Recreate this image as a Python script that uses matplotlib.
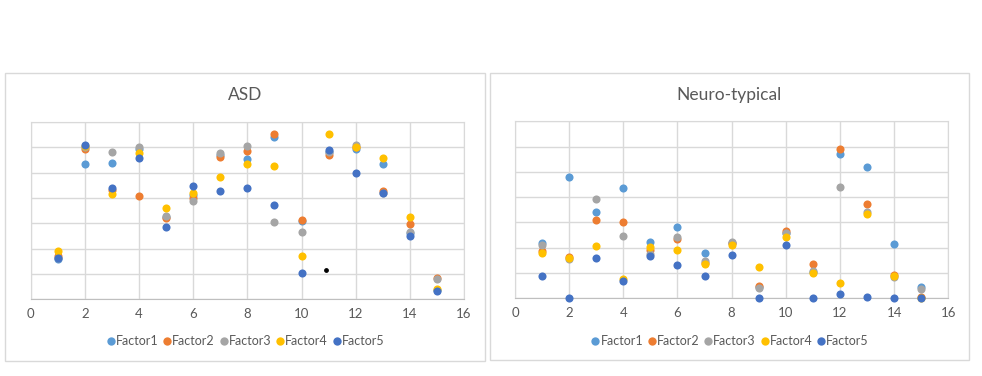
import matplotlib.pyplot as plt
from matplotlib.patches import Rectangle
from matplotlib.lines import Line2D

plt.rcParams['font.family'] = ['Lato', 'DejaVu Sans']

x = list(range(1, 16))
factors = ['Factor1', 'Factor2', 'Factor3', 'Factor4', 'Factor5']
colors = ['#5B9BD5', '#ED7D31', '#A5A5A5', '#FFC000', '#4472C4']

# ASD panel (y in grid units, no tick labels shown in the original)
asd_f1 = [1.58, 5.35, 5.39, 5.95, 3.25, 4.10, 5.70, 5.52, 6.42, 3.10, 5.80, 5.92, 5.33, 2.60, 0.35]
asd_f2 = [1.72, 5.95, 4.30, 4.08, 3.20, 4.00, 5.61, 5.87, 6.53, 3.12, 5.68, 6.00, 4.28, 2.97, 0.85]
asd_f3 = [1.62, 6.00, 5.83, 6.01, 3.28, 3.88, 5.79, 6.06, 3.07, 2.64, 5.80, 6.11, 4.20, 2.64, 0.82]
asd_f4 = [1.89, 6.05, 4.16, 5.76, 3.61, 4.21, 4.83, 5.35, 5.25, 1.70, 6.53, 6.01, 5.57, 3.25, 0.41]
asd_f5 = [1.65, 6.11, 4.40, 5.59, 2.85, 4.48, 4.28, 4.40, 3.71, 1.03, 5.88, 4.97, 4.18, 2.49, 0.32]

# Neuro-typical panel
nt_f1 = [2.19, 4.78, 3.40, 4.35, 2.23, 2.81, 1.78, 2.20, 0.45, 2.60, 1.05, 5.69, 5.18, 2.13, 0.43]
nt_f2 = [1.87, 1.63, 3.08, 3.00, 1.90, 2.36, 1.40, 2.20, 0.47, 2.66, 1.34, 5.90, 3.72, 0.92, 0.05]
nt_f3 = [2.11, 1.54, 3.91, 2.45, 1.74, 2.42, 1.46, 2.23, 0.40, 2.58, 1.08, 4.39, 3.40, 0.84, 0.36]
nt_f4 = [1.78, 1.60, 2.06, 0.76, 2.03, 1.90, 1.36, 2.11, 1.23, 2.41, 0.99, 0.61, 3.32, 0.88, 0.03]
nt_f5 = [0.87, 0.00, 1.58, 0.67, 1.66, 1.30, 0.87, 1.70, 0.00, 2.09, 0.03, 0.16, 0.04, 0.00, 0.00]

# stray black mark visible in the ASD chart
stray_x = [10.9]
stray_y = [1.15]

W, H = 982, 376
fig = plt.figure(figsize=(W / 100, H / 100), dpi=100)


def px_box(x0, y0, x1, y1):
    return [x0 / W, 1 - y1 / H, (x1 - x0) / W, (y1 - y0) / H]


def panel(box, plot, title, series):
    bx = px_box(*box)
    fig.patches.append(Rectangle((bx[0], bx[1]), bx[2], bx[3], transform=fig.transFigure,
                                 facecolor='none', edgecolor='#D9D9D9', linewidth=1.0, zorder=0))
    ax = fig.add_axes(px_box(*plot), zorder=2)
    ax.set_facecolor('none')
    for vals, c, name in zip(series, colors, factors):
        ax.scatter(x, vals, s=34, color=c, label=name, zorder=3, linewidths=0, clip_on=False)
    ax.set_xlim(0, 16)
    ax.set_ylim(0, 7)
    ax.set_xticks(range(0, 17, 2))
    ax.set_yticks(range(0, 8))
    ax.set_yticklabels([])
    ax.tick_params(axis='both', length=0, labelsize=9.5, colors='#595959', pad=6)
    ax.grid(True, color='#D9D9D9', linewidth=1.0, zorder=0)
    ax.set_axisbelow(True)
    for s in ax.spines.values():
        s.set_color('#D9D9D9')
    ax.spines['bottom'].set_color('#BFBFBF')
    cx = (box[0] + box[2]) / 2 / W
    fig.text(cx, 1 - 95 / H, title, ha='center', va='center', fontsize=12.5, color='#595959')
    handles = [Line2D([], [], marker='o', linestyle='none', markersize=6, color=c,
                      markeredgewidth=0) for c in colors]
    fig.legend(handles, factors, loc='center', bbox_to_anchor=(cx, 1 - 341 / H), ncol=5,
               frameon=False, fontsize=9, labelcolor='#595959', handletextpad=0.0,
               columnspacing=0.3, handlelength=0.8, borderaxespad=0)
    return ax


ax1 = panel((5, 73, 485, 361), (30.7, 122, 464, 299.3), 'ASD',
            [asd_f1, asd_f2, asd_f3, asd_f4, asd_f5])
ax1.scatter(stray_x, stray_y, s=6, color='black', marker='o', zorder=4)
ax2 = panel((490, 73, 969, 360), (515, 121.3, 948.3, 298.3), 'Neuro-typical',
            [nt_f1, nt_f2, nt_f3, nt_f4, nt_f5])

fig.savefig('out.png', dpi=100, facecolor='white')
